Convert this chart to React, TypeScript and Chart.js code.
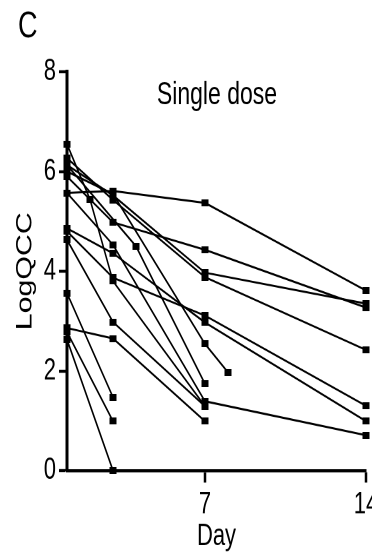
import React, { useEffect, useRef } from "react";
import { Chart, registerables } from "chart.js";

Chart.register(...registerables);

// ---- data (day, LogQCC) per subject ----
const subj01 = [[1, 5.57], [3, 5.61], [7, 5.37], [14, 3.61]];
const subj02 = [[1, 5.9], [3, 4.98], [7, 4.43], [14, 3.27]];
const subj03 = [[1, 6.13], [3, 5.52], [7, 3.97], [14, 3.35]];
const subj04 = [[1, 6.27], [3, 5.43], [7, 3.88], [14, 2.42]];
const subj05 = [[1, 4.8], [3, 3.87], [7, 3.11], [14, 1.3]];
const subj06 = [[1, 4.86], [3, 4.36], [7, 2.97], [14, 0.99]];
const subj07 = [[1, 5.57], [3, 4.53], [7, 1.39], [14, 0.71]];
const subj08 = [[1, 6.0], [3, 5.55], [7, 2.54], [8, 1.97]];
const subj09 = [[1, 6.55], [2, 5.44], [3, 3.8], [7, 1.29]];
const subj10 = [[1, 6.13], [4, 4.5], [7, 1.74]];
const subj11 = [[1, 2.86], [3, 2.65], [7, 0.99]];
const subj12 = [[1, 3.56], [3, 1.47]];
const subj13 = [[1, 2.78], [3, 0.99]];
const subj14 = [[1, 2.63], [3, 0]];
const subj15 = [[1, 4.63], [3, 2.98], [7, 1.29]];

const subjects = [
  subj01, subj02, subj03, subj04, subj05, subj06, subj07, subj08,
  subj09, subj10, subj11, subj12, subj13, subj14, subj15,
];

const xTickValues = [7, 14];
const yTickValues = [0, 2, 4, 6, 8];
const xTitle = "Day";
const yTitle = "LogQCC";
const chartTitle = "Single dose";
const panelLabel = "C";

const FONT = '"Liberation Sans", Arial, Helvetica, sans-serif';
const STRETCH = 1.38;
const W = 400;
const H = 402;

export default function App() {
  const ref = useRef<HTMLCanvasElement | null>(null);

  useEffect(() => {
    const canvas = ref.current;
    if (!canvas) return;

    const marker = document.createElement("canvas");
    marker.width = 7;
    marker.height = 5;
    const mctx = marker.getContext("2d")!;
    mctx.fillStyle = "#000";
    mctx.fillRect(0, 0, 7, 5);

    const textPlugin = {
      id: "textPlugin",
      afterDraw(chart: any) {
        const ctx = chart.ctx;
        ctx.save();
        ctx.fillStyle = "#000";
        ctx.textBaseline = "alphabetic";
        ctx.font = `23px ${FONT}`;
        ctx.textAlign = "center";
        ctx.fillText(chartTitle, 217, 75.6);
        ctx.font = `27px ${FONT}`;
        ctx.textAlign = "left";
        ctx.fillText(panelLabel, 18, 26.8);
        ctx.restore();
      },
    };

    const chart = new Chart(canvas, {
      type: "line",
      data: {
        datasets: subjects.map((s) => ({
          data: s.map(([x, y]) => ({ x, y })),
          borderColor: "#000",
          backgroundColor: "#000",
          borderWidth: 1.5,
          pointStyle: marker,
          pointRadius: 4,
          pointHoverRadius: 4,
          tension: 0,
          fill: false,
          clip: false as any,
        })),
      },
      options: {
        animation: false,
        responsive: false,
        devicePixelRatio: 2,
        layout: { padding: { left: 0, top: 52, right: 34, bottom: 0 } },
        plugins: {
          legend: { display: false },
          tooltip: { enabled: false },
          title: { display: false },
        },
        scales: {
          x: {
            type: "linear",
            min: 1,
            max: 14,
            afterBuildTicks: (s: any) => {
              s.ticks = xTickValues.map((v) => ({ value: v }));
            },
            afterFit: (s: any) => {
              s.height = 61;
            },
            ticks: {
              autoSkip: false,
              maxRotation: 0,
              padding: 3,
              color: "#000",
              font: { family: FONT, size: 22 },
            },
            grid: {
              display: true,
              drawOnChartArea: false,
              drawTicks: true,
              tickLength: 8.7,
              tickWidth: 2.5,
              tickColor: "#000",
              color: "#000",
            },
            border: { display: true, color: "#000", width: 2.2 },
            title: {
              display: true,
              text: xTitle,
              color: "#000",
              font: { family: FONT, size: 22 },
              padding: { top: 0, bottom: 0 },
            },
          },
          y: {
            type: "linear",
            min: 0,
            max: 8,
            afterBuildTicks: (s: any) => {
              s.ticks = yTickValues.map((v) => ({ value: v }));
            },
            afterFit: (s: any) => {
              s.width = 67;
            },
            ticks: {
              padding: 3,
              color: "#000",
              font: { family: FONT, size: 22 },
            },
            grid: {
              display: true,
              drawOnChartArea: false,
              drawTicks: true,
              tickLength: 8,
              tickWidth: 2.2,
              tickColor: "#000",
              color: "#000",
            },
            border: { display: true, color: "#000", width: 3 },
            title: {
              display: true,
              text: yTitle,
              color: "#000",
              font: { family: FONT, size: 22 },
              padding: { top: 12, bottom: 0 },
            },
          },
        },
      },
      plugins: [textPlugin],
    });

    return () => chart.destroy();
  }, []);

  return (
    <div
      style={{
        position: "fixed",
        left: 0,
        top: 0,
        width: 372,
        height: 555,
        overflow: "hidden",
        background: "#fff",
      }}
    >
      <div
        style={{
          width: W,
          height: H,
          transform: `scaleY(${STRETCH})`,
          transformOrigin: "top left",
        }}
      >
        <canvas ref={ref} width={W} height={H} />
      </div>
    </div>
  );
}
